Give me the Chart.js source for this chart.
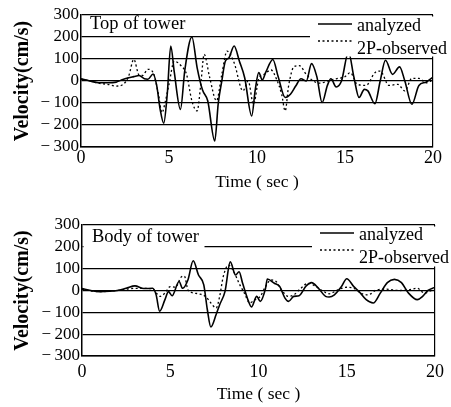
<!DOCTYPE html>
<html>
<head>
<meta charset="utf-8">
<script src="https://cdn.jsdelivr.net/npm/chart.js@4.4.0/dist/chart.umd.min.js"></script>
<style>
  html, body { margin: 0; padding: 0; background: #fff; }
  #wrap { position: relative; width: 451px; height: 407px; }
  #wrap canvas { position: absolute; left: 0; }
</style>
</head>
<body>
<div id="wrap">
  <canvas id="topChart" width="451" height="203" style="top:0"></canvas>
  <canvas id="bodyChart" width="451" height="204" style="top:203px"></canvas>
</div>
<script>
// velocity records (cm/s) against time (sec)
var yTicks = [-300, -200, -100, 0, 100, 200, 300];
var xTicks = [0, 5, 10, 15, 20];

// top of tower
var topAnaT = [0, 0.5, 1, 1.5, 2, 2.3, 2.7, 3.0, 3.3, 3.6, 3.8, 4.1, 4.3, 4.5, 4.7, 4.9, 5.1, 5.3, 5.65, 5.9,
  6.3, 6.6, 6.9, 7.2, 7.6, 7.8, 8.0, 8.2, 8.4, 8.7, 9.0, 9.3, 9.7, 9.9, 10.1, 10.3, 10.5, 10.9, 11.2, 11.6,
  11.9, 12.2, 12.5, 12.8, 13.1, 13.4, 13.7, 14.0, 14.2, 14.5, 14.8, 15.2, 15.5, 15.8, 16.1, 16.3, 16.7, 17.0,
  17.3, 17.7, 18.1, 18.4, 18.8, 19.2, 19.6, 20];
var topAnaV = [10, 0, -8, -8, -5, 5, 15, 20, 25, 10, 8, 32, -20, -130, -192, -60, 159, 40, -129, 50,
  200, 60, -40, -90, -273, -100, 0, 90, 105, 159, 90, 15, -159, -40, 38, 5, 40, 98, 20, -75,
  -60, -23, 10, 0, 79, 20, -98, -20, 10, -27, 0, 132, 20, -75, -38, -45, -103, 0,
  94, 30, 64, 0, -106, -20, -5, 18];
var topObsT = [0, 0.5, 1, 1.5, 2, 2.4, 2.7, 3.0, 3.3, 3.5, 3.8, 4.1, 4.4, 4.6, 4.8, 5.0, 5.3, 5.7, 6.0, 6.3,
  6.6, 6.8, 7.0, 7.3, 7.7, 8.0, 8.3, 8.7, 9.2, 9.5, 9.8, 10.1, 10.4, 10.8, 11.1, 11.4, 11.6, 11.8, 12.1, 12.4,
  12.8, 13.2, 13.6, 14.0, 14.5, 15.0, 15.3, 15.7, 16.2, 16.7, 17.0, 17.5, 18.0, 18.4, 18.8, 19.2, 19.6, 20];
var topObsV = [8, 0, -10, -15, -23, -15, 20, 98, 27, 25, 53, 38, -60, -144, -90, -15, 90, 68, 30, -90,
  -136, -20, 121, 20, -90, 30, 136, 83, -45, 0, -106, 10, 30, 50, 10, -60, -136, -20, 65, 70,
  30, 0, -10, 0, 10, 20, 38, -15, -20, 38, 45, -20, -15, -45, 12, 12, -8, 5];

// body of tower
var bodyAnaT = [0, 0.5, 1, 2, 2.5, 3.0, 3.5, 4.0, 4.2, 4.4, 4.7, 4.9, 5.1, 5.5, 5.7, 6.0, 6.3, 6.6, 6.9, 7.1,
  7.3, 7.6, 7.8, 8.1, 8.4, 8.7, 8.9, 9.1, 9.4, 9.6, 9.9, 10.1, 10.4, 10.5, 10.9, 11.2, 11.5, 11.7, 12.0, 12.3,
  12.7, 13.0, 13.4, 13.8, 14.0, 14.3, 14.7, 15.0, 15.4, 15.7, 16.1, 16.5, 16.9, 17.3, 17.7, 18.1, 18.5, 19.0,
  19.3, 19.6, 20];
var bodyAnaV = [9, 0, -5, 0, 10, 21, 9, 10, -20, -95, -42, -5, -24, 41, 10, 48, 136, 71, 26, -87,
  -167, -110, -65, -5, 131, 71, 86, 33, -42, -75, -27, -50, 10, 53, 33, 18, -35, -50, -27, -24,
  21, 36, 10, -27, -30, -20, 18, 54, 18, -5, -42, -57, -12, 36, 51, 36, -12, -42,
  -27, 0, 15];
var bodyObsT = [0, 1, 2, 3, 4, 4.2, 4.4, 4.7, 5.0, 5.3, 5.6, 5.8, 6.0, 6.2, 6.6, 7.0, 7.3, 7.6, 7.8, 8.0,
  8.3, 8.6, 8.9, 9.2, 9.5, 9.8, 10.1, 10.4, 10.7, 11.0, 11.3, 11.7, 12.0, 12.4, 12.8, 13.2, 13.6, 14.0, 14.5, 15.0,
  15.4, 15.8, 16.2, 16.7, 17.2, 17.6, 18.0, 18.5, 19.0, 19.4, 19.8, 20];
var bodyObsV = [5, -5, 0, 10, 8, -10, -27, -12, 18, 15, 60, 66, 3, -9, -15, -27, -57, -80, -27, 63,
  116, 86, 33, -12, -57, -42, -27, 18, 48, 41, 3, -27, -20, 10, 33, 21, 0, -15, 3, 15,
  10, -12, -20, 3, 6, 3, 0, 3, 10, -12, 0, 3];

var FONT = "'Liberation Serif', 'Times New Roman', serif";

function pts(t, v) {
  return t.map(function(x, i) { return {x: x, y: v[i]}; });
}

// caption in the upper left and the key in the upper right of the plot
var notes = {
  id: 'notes',
  afterDraw: function(chart, args, o) {
    var ctx = chart.ctx, a = chart.chartArea;
    ctx.save();
    ctx.fillStyle = '#fff';
    ctx.fillRect(a.right - 123, a.top + 1.5, chart.width - (a.right - 123), o.keyH);
    if (o.capMask) ctx.fillRect(a.left + 1.5, a.top + 1.5, o.capMask, 25);

    ctx.fillStyle = '#000';
    ctx.textBaseline = 'middle';
    ctx.textAlign = 'left';
    ctx.font = '18.5px ' + FONT;
    ctx.fillText(o.caption, a.left + o.capX, a.top + o.capY);

    ctx.strokeStyle = '#000';
    ctx.lineWidth = 1.5;
    ctx.beginPath();
    ctx.moveTo(a.right - 115, a.top + o.k1);
    ctx.lineTo(a.right - 81, a.top + o.k1);
    ctx.stroke();
    ctx.setLineDash([2, 2.5]);
    ctx.lineWidth = 1.3;
    ctx.beginPath();
    ctx.moveTo(a.right - 115, a.top + o.k2);
    ctx.lineTo(a.right - 81, a.top + o.k2);
    ctx.stroke();
    ctx.setLineDash([]);
    ctx.font = '18px ' + FONT;
    ctx.fillText('analyzed', a.right - 76, a.top + o.k1 + 2);
    ctx.fillText('2P-observed', a.right - 76, a.top + o.k2 + 8);
    ctx.restore();
  }
};

function makeChart(id, tA, vA, tO, vO, cfg) {
  return new Chart(document.getElementById(id).getContext('2d'), {
    type: 'line',
    data: {
      datasets: [{
        label: 'analyzed',
        data: pts(tA, vA),
        borderColor: '#000',
        borderWidth: 1.6,
        pointRadius: 0,
        cubicInterpolationMode: 'monotone'
      }, {
        label: '2P-observed',
        data: pts(tO, vO),
        borderColor: '#000',
        borderWidth: 1.3,
        borderDash: [2, 2.5],
        pointRadius: 0,
        cubicInterpolationMode: 'monotone'
      }]
    },
    options: {
      responsive: false,
      animation: false,
      layout: { padding: { left: 0, top: cfg.top, right: cfg.right, bottom: 0 } },
      plugins: {
        legend: { display: false },
        tooltip: { enabled: false },
        notes: cfg.notes
      },
      scales: {
        x: {
          type: 'linear',
          min: 0, max: 20,
          afterFit: function(s) { s.height = cfg.xH; },
          afterBuildTicks: function(s) { s.ticks = xTicks.map(function(v) { return {value: v}; }); },
          ticks: { color: '#000', padding: cfg.xPad, maxRotation: 0, autoSkip: false, font: { family: FONT, size: 18 } },
          grid: {
            drawTicks: false,
            lineWidth: 1.2,
            color: function(c) { return c.tick && c.tick.value === 20 ? '#000' : 'rgba(0,0,0,0)'; }
          },
          border: { color: '#000', width: 1.5 },
          title: {
            display: true, text: 'Time ( sec )', color: '#000',
            font: { family: FONT, size: 17.5 },
            padding: { top: 0, bottom: cfg.xTitlePad }
          }
        },
        y: {
          min: -300, max: 300,
          afterFit: function(s) { s.width = cfg.left; },
          afterBuildTicks: function(s) { s.ticks = yTicks.map(function(v) { return {value: v}; }); },
          ticks: {
            color: '#000', padding: 2, autoSkip: false,
            font: { family: FONT, size: 17 },
            callback: function(v) { return v < 0 ? '\u2212\u2009' + Math.abs(v) : String(v); }
          },
          grid: { drawTicks: false, color: '#000', lineWidth: 1.2 },
          border: { color: '#000', width: 1.5 },
          title: {
            display: true, text: 'Velocity(cm/s)', color: '#000',
            font: { family: FONT, size: 20, weight: 'bold' },
            padding: { top: 11, bottom: 0 }
          }
        }
      }
    },
    plugins: [notes]
  });
}

makeChart('topChart', topAnaT, topAnaV, topObsT, topObsV, {
  top: 15, right: 18, left: 81, xH: 56, xPad: 0, xTitlePad: 10,
  notes: { caption: 'Top of tower', capX: 9, capY: 9, capMask: 0, keyH: 40, k1: 9, k2: 26 }
});

makeChart('bodyChart', bodyAnaT, bodyAnaV, bodyObsT, bodyObsV, {
  top: 22, right: 16, left: 82, xH: 51, xPad: 5, xTitlePad: 2,
  notes: { caption: 'Body of tower', capX: 10, capY: 12, capMask: 121, keyH: 40, k1: 8, k2: 25 }
});
</script>
</body>
</html>
